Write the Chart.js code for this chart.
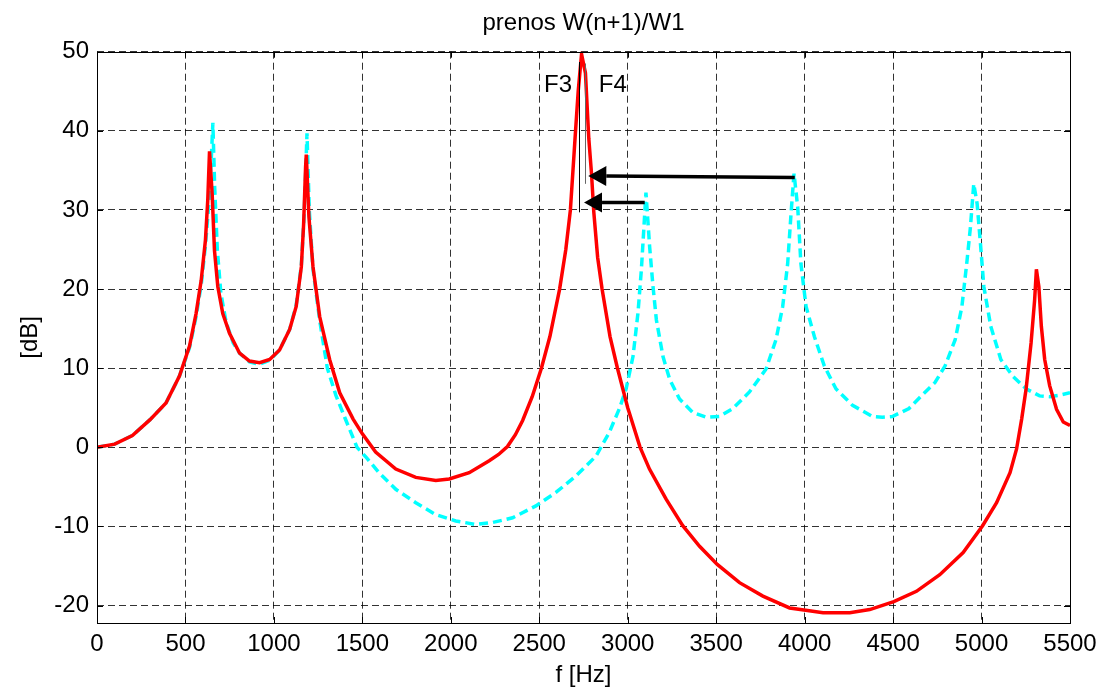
<!DOCTYPE html>
<html>
<head>
<meta charset="utf-8">
<script src="https://cdn.jsdelivr.net/npm/chart.js@4/dist/chart.umd.min.js"></script>
<style>
  body { margin: 0; background: #fff; }
  #plot { display: block; }
</style>
</head>
<body>
<canvas id="plot" width="1098" height="688"></canvas>
<script>
// red solid: W(n+1)/W1 after shift
const freqRed = [
    0, 100, 200, 300, 390, 466, 523, 560, 589, 613,
    626, 636, 651, 664, 683, 711, 749, 806, 862, 919,
    976, 1032, 1089, 1126, 1155, 1168, 1179, 1183, 1198, 1221,
    1259, 1315, 1372, 1447, 1500, 1575, 1689, 1802, 1915, 1991,
    2104, 2217, 2270, 2320, 2365, 2406, 2460, 2512, 2560, 2615,
    2650, 2676, 2705, 2720, 2739, 2761, 2780, 2795, 2808, 2830,
    2855, 2900, 2942, 3000, 3070, 3123, 3217, 3311, 3406, 3506,
    3632, 3764, 3915, 4006, 4104, 4255, 4368, 4504, 4632, 4764,
    4896, 5006, 5085, 5161, 5198, 5227, 5252, 5280, 5300, 5310,
    5324, 5338, 5357, 5385, 5424, 5462, 5500
];
const dbRed = [
    0, 0.4, 1.5, 3.5, 5.6, 9.0, 12.8, 16.9, 21.1, 26.2,
    31.2, 37.4, 32.0, 24.9, 20.3, 16.9, 14.4, 11.9, 10.9, 10.7,
    11.1, 12.3, 14.9, 17.8, 22.8, 28.2, 35.4, 37.0, 29.1, 22.8,
    16.5, 11.1, 6.9, 3.6, 1.7, -0.6, -2.75, -3.8, -4.2, -4.0,
    -3.2, -1.7, -0.9, 0.1, 1.6, 3.4, 6.4, 10, 14, 20,
    25, 30, 40, 45, 49.7, 47.3, 39, 34.7, 29.8, 24,
    20, 14, 10, 5, 0, -2.75, -6.55, -9.9, -12.5, -14.8,
    -17.1, -18.8, -20.3, -20.6, -20.9, -20.9, -20.5, -19.5, -18.2, -16.1,
    -13.3, -9.9, -7.0, -3.2, -0.2, 3.6, 7.4, 13.2, 18.6, 22.5,
    20.3, 15.3, 11.1, 7.8, 4.8, 3.2, 2.75
];

// cyan dashed
const freqCyan = [
    0, 100, 200, 300, 390, 466, 523, 560, 589, 613,
    633, 645, 655, 665, 680, 700, 730, 770, 806, 862,
    919, 976, 1032, 1089, 1126, 1155, 1170, 1180, 1187, 1200,
    1221, 1259, 1302, 1350, 1400, 1470, 1523, 1594, 1689, 1802,
    1915, 2028, 2142, 2236, 2349, 2481, 2594, 2708, 2821, 2896,
    2953, 2991, 3030, 3058, 3077, 3092, 3103, 3124, 3143, 3162,
    3199, 3237, 3293, 3368, 3444, 3519, 3594, 3688, 3782, 3838,
    3876, 3904, 3923, 3940, 3961, 3979, 4008, 4055, 4111, 4177,
    4271, 4384, 4440, 4496, 4590, 4660, 4737, 4794, 4851, 4889,
    4918, 4937, 4956, 4975, 4994, 5013, 5052, 5109, 5176, 5252,
    5328, 5385, 5443, 5500
];
const dbCyan = [
    0, 0.4, 1.5, 3.5, 5.6, 9.0, 12.6, 16.5, 20.5, 25.5,
    31, 36, 41.0, 33, 25, 19.5, 15.8, 13.2, 11.9, 10.8,
    10.5, 11.0, 12.3, 14.9, 18, 23, 29, 35, 39.7, 30,
    22.5, 16, 10, 6.6, 3.8, 0, -1.3, -3.2, -5.3, -7.0,
    -8.5, -9.3, -9.75, -9.5, -8.9, -7.4, -5.7, -3.6, -1.1, 1.9,
    4.9, 7.4, 11.5, 17.0, 22.4, 28, 32.2, 25.3, 20.3, 16.1,
    11.5, 8.6, 6.1, 4.4, 3.8, 3.9, 4.9, 7.0, 9.9, 13.6,
    17.8, 23.2, 29.5, 34.6, 30.3, 23.2, 17.8, 14.0, 10.3, 7.4,
    5.3, 3.9, 3.8, 3.9, 4.9, 6.5, 8.2, 10.3, 13.6, 17.8,
    23.6, 27.8, 33.3, 30.8, 25.7, 20.3, 15.3, 11.1, 9.0, 7.4,
    6.5, 6.4, 6.6, 6.9
];

const xTicks = [0, 500, 1000, 1500, 2000, 2500, 3000, 3500, 4000, 4500, 5000, 5500];
const yTicks = [-20, -10, 0, 10, 20, 30, 40, 50];

// F3 / F4 markers (Hz, dB)
const markerNames = ["F3", "F4"];
const markerNameFreq = [2606, 2916];
const markerNameDb = [45.8, 45.8];
const markerFreq = [2726, 2758];
const markerTop = [48.7, 48.5];
const markerBottom = [29.7, 33.3];

// arrows: start -> tip
const arrowFromFreq = [3944, 3096];
const arrowFromDb = [34.1, 30.95];
const arrowToFreq = [2777, 2753];
const arrowToDb = [34.3, 30.95];

const FONT = "'Liberation Sans', Arial, Helvetica, sans-serif";

function toPoints(xs, ys) {
    return xs.map((x, i) => ({ x: x, y: ys[i] }));
}

const matlabAxes = {
    id: "matlabAxes",
    afterDatasetsDraw(chart) {
        const ctx = chart.ctx;
        const a = chart.chartArea;
        const xs = chart.scales.x;
        const ys = chart.scales.y;
        ctx.save();

        // box + inward ticks
        ctx.strokeStyle = "#000";
        ctx.lineWidth = 1;
        ctx.setLineDash([]);
        ctx.strokeRect(Math.round(a.left) + 0.5, Math.round(a.top) + 0.5,
            Math.round(a.right - a.left), Math.round(a.bottom - a.top));
        ctx.beginPath();
        xTicks.forEach(v => {
            let px = Math.round(xs.getPixelForValue(v)) + 0.5;
            ctx.moveTo(px, a.bottom); ctx.lineTo(px, a.bottom - 6);
            ctx.moveTo(px, a.top); ctx.lineTo(px, a.top + 6);
        });
        yTicks.forEach(v => {
            let py = Math.round(ys.getPixelForValue(v)) + 0.5;
            ctx.moveTo(a.left, py); ctx.lineTo(a.left + 6, py);
            ctx.moveTo(a.right, py); ctx.lineTo(a.right - 6, py);
        });
        ctx.stroke();

        // vertical marker lines
        ctx.lineWidth = 1;
        markerFreq.forEach((f, i) => {
            let px = Math.round(xs.getPixelForValue(f)) + 0.5;
            ctx.strokeStyle = i === 0 ? "#000" : "#666";
            ctx.beginPath();
            ctx.moveTo(px, ys.getPixelForValue(markerTop[i]));
            ctx.lineTo(px, ys.getPixelForValue(markerBottom[i]));
            ctx.stroke();
        });

        // arrows
        ctx.strokeStyle = "#000";
        ctx.fillStyle = "#000";
        ctx.lineWidth = 3.5;
        arrowFromFreq.forEach((f, i) => {
            let x0 = xs.getPixelForValue(f), y0 = ys.getPixelForValue(arrowFromDb[i]);
            let x1 = xs.getPixelForValue(arrowToFreq[i]), y1 = ys.getPixelForValue(arrowToDb[i]);
            let ang = Math.atan2(y1 - y0, x1 - x0);
            let len = 18, half = 10;
            let bx = x1 - Math.cos(ang) * len, by = y1 - Math.sin(ang) * len;
            ctx.beginPath();
            ctx.moveTo(x0, y0);
            ctx.lineTo(bx, by);
            ctx.stroke();
            ctx.beginPath();
            ctx.moveTo(x1, y1);
            ctx.lineTo(bx - Math.sin(ang) * half, by + Math.cos(ang) * half);
            ctx.lineTo(bx + Math.sin(ang) * half, by - Math.cos(ang) * half);
            ctx.closePath();
            ctx.fill();
        });

        // labels
        ctx.font = "24px " + FONT;
        ctx.textAlign = "center";
        ctx.textBaseline = "middle";
        markerNames.forEach((t, i) => {
            ctx.fillText(t, xs.getPixelForValue(markerNameFreq[i]), ys.getPixelForValue(markerNameDb[i]));
        });
        ctx.restore();
    }
};

Chart.defaults.font.family = FONT;
Chart.defaults.font.size = 24;
Chart.defaults.color = "#000";

const chart = new Chart(document.getElementById("plot"), {
    type: "line",
    data: {
        datasets: [
            {
                label: "red",
                data: toPoints(freqRed, dbRed),
                borderColor: "#ff0000",
                borderWidth: 3.5,
                pointRadius: 0,
                tension: 0,
                order: 0,
            },
            {
                label: "cyan",
                data: toPoints(freqCyan, dbCyan),
                borderColor: "#00ffff",
                borderWidth: 3.5,
                borderDash: [9, 5],
                pointRadius: 0,
                tension: 0,
                order: 1,
            },
        ],
    },
    options: {
        responsive: false,
        animation: false,
        devicePixelRatio: 1,
        layout: { padding: { top: 0, right: 28, bottom: 0, left: 0 } },
        plugins: {
            legend: { display: false },
            tooltip: { enabled: false },
            title: {
                display: true,
                text: "prenos W(n+1)/W1",
                fullSize: false,
                color: "#000",
                font: { size: 24, weight: "normal", family: FONT },
                padding: { top: 8.6, bottom: 14.3 },
            },
        },
        scales: {
            x: {
                type: "linear",
                min: 0,
                max: 5500,
                afterBuildTicks: s => { s.ticks = xTicks.map(v => ({ value: v })); },
                afterFit: s => { s.height = 65; s.paddingRight = 0; },
                ticks: { padding: 7, maxRotation: 0, autoSkip: false, font: { size: 24 }, callback: v => String(v) },
                grid: { color: "rgba(0,0,0,0.8)", lineWidth: 1, drawTicks: false },
                border: { display: false, dash: [7, 4] },
                title: {
                    display: true,
                    text: "f [Hz]",
                    font: { size: 24, lineHeight: 1 },
                    padding: { top: 0, bottom: 0.5 },
                },
            },
            y: {
                type: "linear",
                min: -22.2,
                max: 50,
                afterBuildTicks: s => { s.ticks = yTicks.map(v => ({ value: v })); },
                afterFit: s => { s.width = 97; },
                ticks: { padding: 8, autoSkip: false, font: { size: 24 }, callback: v => String(v) },
                grid: { color: "rgba(0,0,0,0.8)", lineWidth: 1, drawTicks: false },
                border: { display: false, dash: [7, 4] },
                title: {
                    display: true,
                    text: "[dB]",
                    font: { size: 24, lineHeight: 1 },
                    padding: { top: 18.5, bottom: 0 },
                },
            },
        },
    },
    plugins: [matlabAxes],
});
</script>
</body>
</html>
